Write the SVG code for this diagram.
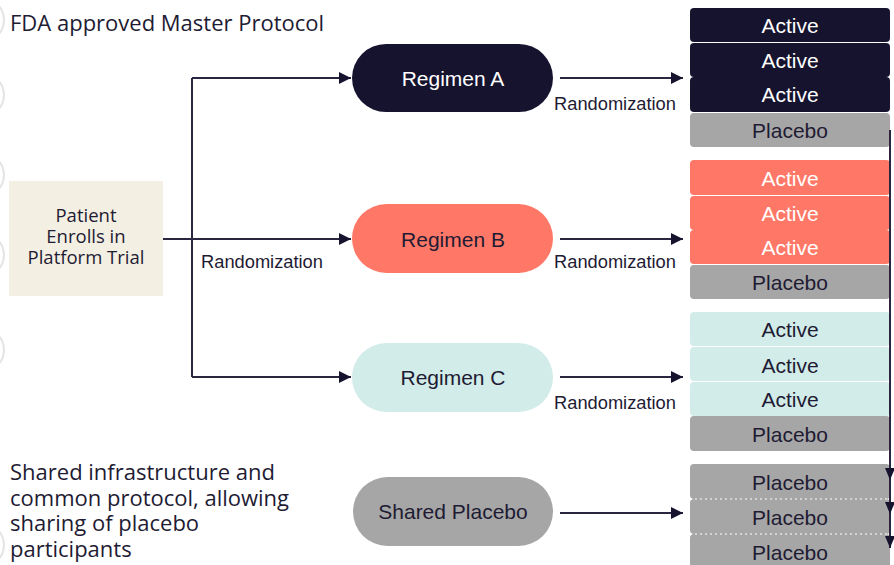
<svg xmlns="http://www.w3.org/2000/svg" width="894" height="565" viewBox="0 0 894 565">
<defs>
<style>
.poppins{font-family:"Open Sans","Noto Sans",sans-serif;fill:#1e1b33}
.lbl{font-family:"Liberation Sans",Arial,sans-serif;font-size:21px;text-anchor:middle;dominant-baseline:central}
.rand{font-family:"Liberation Sans",Arial,sans-serif;font-size:18.3px;fill:#1e1b33;text-anchor:middle}
.conn{fill:none;stroke:#2a2640;stroke-width:2}
.dark{fill:#16132e}
.coral{fill:#ff7867}
.teal{fill:#d2ecea}
.grey{fill:#a6a6a6}
.wt{fill:#ffffff}
.dt{fill:#1e1b33}
.wm{fill:none;stroke:#e4e4e4;stroke-width:2}
</style>
<marker id="arr" viewBox="0 0 10 10" refX="10" refY="5" markerWidth="6" markerHeight="6" orient="auto" markerUnits="strokeWidth">
<path d="M0,0 L10,5 L0,10 z" fill="#16132e"/>
</marker>
</defs>
<rect width="894" height="565" fill="#ffffff"/>

<g id="watermark">
<circle class="wm" cx="-18" cy="20" r="22"/>
<circle class="wm" cx="-18" cy="95" r="22"/>
<circle class="wm" cx="-18" cy="175" r="22"/>
<circle class="wm" cx="-18" cy="255" r="22"/>
<circle class="wm" cx="-18" cy="350" r="22"/>
<circle class="wm" cx="-18" cy="545" r="22"/>
</g>

<g id="title"><text class="poppins" x="10" y="31" font-size="22">FDA approved Master Protocol</text></g>

<g id="note">
<text class="poppins" font-size="22" x="10" y="480">Shared infrastructure and</text>
<text class="poppins" font-size="22" x="10" y="506">common protocol, allowing</text>
<text class="poppins" font-size="22" x="10" y="531">sharing of placebo</text>
<text class="poppins" font-size="22" x="10" y="557">participants</text>
</g>

<g id="patient">
<rect x="9" y="181" width="154" height="115" fill="#f3efe3"/>
<text class="poppins" font-size="18.5" text-anchor="middle" x="86" y="222">Patient</text>
<text class="poppins" font-size="18.5" text-anchor="middle" x="86" y="243">Enrolls in</text>
<text class="poppins" font-size="18.5" text-anchor="middle" x="86" y="264">Platform Trial</text>
</g>

<g id="connectors">
<path class="conn" d="M163,239 H192"/>
<path class="conn" d="M192,78 V377"/>
<path class="conn" d="M192,78 H351" marker-end="url(#arr)"/>
<path class="conn" d="M192,239 H351" marker-end="url(#arr)"/>
<path class="conn" d="M192,377 H351" marker-end="url(#arr)"/>
<path class="conn" d="M560,78 H683" marker-end="url(#arr)"/>
<path class="conn" d="M560,239 H683" marker-end="url(#arr)"/>
<path class="conn" d="M560,377 H683" marker-end="url(#arr)"/>
<path class="conn" d="M560,513 H683" marker-end="url(#arr)"/>
<text class="rand" x="262" y="268">Randomization</text>
<text class="rand" x="615" y="110">Randomization</text>
<text class="rand" x="615" y="268">Randomization</text>
<text class="rand" x="615" y="409">Randomization</text>
</g>

<g id="regimen-a">
<rect class="dark" x="352" y="44" width="201" height="68" rx="34"/>
<text class="lbl wt" x="453" y="78">Regimen A</text>
</g>
<g id="regimen-b">
<rect class="coral" x="352" y="204" width="201" height="69" rx="34.5"/>
<text class="lbl dt" x="453" y="239">Regimen B</text>
</g>
<g id="regimen-c">
<rect class="teal" x="352" y="343" width="201" height="69" rx="34.5"/>
<text class="lbl dt" x="453" y="377">Regimen C</text>
</g>
<g id="shared-placebo">
<rect class="grey" x="353" y="477" width="200" height="69" rx="34.5"/>
<text class="lbl dt" x="453" y="511">Shared Placebo</text>
</g>

<g id="arm-a">
<rect class="dark" x="690" y="8" width="200" height="34" rx="4"/>
<text class="lbl wt" x="790" y="25">Active</text>
<rect class="dark" x="690" y="43" width="200" height="34" rx="4"/>
<text class="lbl wt" x="790" y="60">Active</text>
<rect class="dark" x="690" y="77" width="200" height="35" rx="4"/>
<text class="lbl wt" x="790" y="94">Active</text>
<rect class="grey" x="690" y="113" width="200" height="34" rx="4"/>
<text class="lbl dt" x="790" y="130">Placebo</text>
</g>
<g id="arm-b">
<rect class="coral" x="690" y="160" width="200" height="35" rx="4"/>
<text class="lbl wt" x="790" y="178">Active</text>
<rect class="coral" x="690" y="196" width="200" height="34" rx="4"/>
<text class="lbl wt" x="790" y="213">Active</text>
<rect class="coral" x="690" y="230" width="200" height="34" rx="4"/>
<text class="lbl wt" x="790" y="247">Active</text>
<rect class="grey" x="690" y="265" width="200" height="34" rx="4"/>
<text class="lbl dt" x="790" y="282">Placebo</text>
</g>
<g id="arm-c">
<rect class="teal" x="690" y="312" width="200" height="34" rx="4"/>
<text class="lbl dt" x="790" y="329">Active</text>
<rect class="teal" x="690" y="347" width="200" height="34" rx="4"/>
<text class="lbl dt" x="790" y="365">Active</text>
<rect class="teal" x="690" y="382" width="200" height="34" rx="4"/>
<text class="lbl dt" x="790" y="399">Active</text>
<rect class="grey" x="690" y="416" width="200" height="35" rx="4"/>
<text class="lbl dt" x="790" y="434">Placebo</text>
</g>
<g id="shared-arms">
<rect class="grey" x="690" y="464" width="200" height="35" rx="4"/>
<text class="lbl dt" x="790" y="482">Placebo</text>
<rect class="grey" x="690" y="499" width="200" height="35" rx="4"/>
<text class="lbl dt" x="790" y="517">Placebo</text>
<rect class="grey" x="690" y="534" width="200" height="35" rx="4"/>
<text class="lbl dt" x="790" y="552">Placebo</text>
<path d="M690,499 H888 M690,534 H888" stroke="#ffffff" stroke-width="1" stroke-dasharray="2,3"/>
</g>
<g id="right-line">
<path class="conn" d="M890,130 V548"/>
<path d="M885,468 L895,468 L890,480 z" fill="#16132e"/>
<path d="M885,502 L895,502 L890,514 z" fill="#16132e"/>
<path d="M885,536 L895,536 L890,548 z" fill="#16132e"/>
</g>
</svg>
